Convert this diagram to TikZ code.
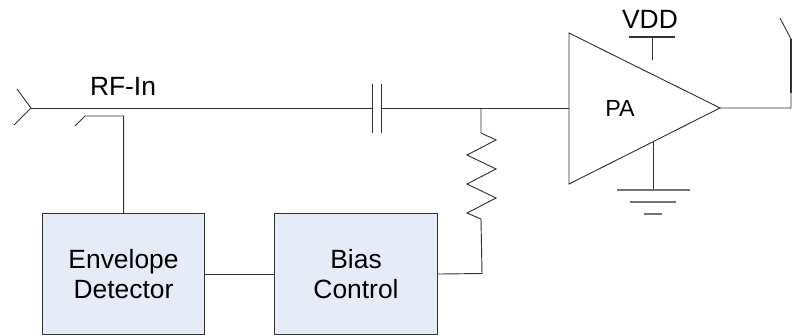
\documentclass[tikz,border=0pt]{standalone}
\usepackage{fontspec}
\setmainfont{Liberation Sans}
\usetikzlibrary{positioning,calc}
\definecolor{cBlockBg}{HTML}{E6ECF7}
\definecolor{cWire}{HTML}{333333}
\tikzset{
  wire/.style={draw=cWire, line width=0.7pt},
  blockBox/.style={draw=cWire, fill=cBlockBg, line width=0.8pt, anchor=north west, align=center,
                   font=\fontsize{19.8}{23.2}\selectfont, inner sep=0pt, minimum height=90.75pt},
  lbl/.style={font=\fontsize{19.8}{23}\selectfont, inner sep=0pt},
}
\begin{document}
\begin{tikzpicture}[x=0.75pt,y=-0.75pt]
\useasboundingbox (0,0) rectangle (793,335);

% ========== INPUT LINE ==========
\coordinate (inTip) at (31,108);
\coordinate (inTop) at (17,89);
\coordinate (inBot) at (14,125);
\coordinate (capL) at (372,108);
\coordinate (capR) at (381,108);
\coordinate (tee) at (481,108);
\draw[wire] (inTop) -- (inTip) -- (inBot);
\draw[wire] (inTip) -- (capL);
\draw[wire] (capR) -- (tee);
\draw[wire] (capL |- 0,84) -- (capL |- 0,133);
\draw[wire] (capR |- 0,84) -- (capR |- 0,133);
\node[lbl] (rfin) at (123,86) {RF-In};

% ========== BLOCKS ==========
\node[blockBox, minimum width=121.5pt] (envdet) at (42,213) {Envelope\\Detector};
\node[blockBox, minimum width=122.25pt] (bias) at (274,213) {Bias\\Control};

% coupler
\coordinate (cplTip) at (75,126);
\coordinate (cplBend) at (85,116);
\coordinate (cplCorner) at (envdet.north |- cplBend);
\draw[wire] (cplTip) -- (cplBend) -- (cplCorner) -- (envdet.north);
\draw[wire] (envdet.east) -- (bias.west);

% resistor
\draw[wire] (tee) -- (481,133) -- (496,140) -- (467,155) -- (496,169) -- (467,184)
  -- (496,198) -- (467,213) -- (481,219) -- (482,273.5) -- (bias.east);

% ========== PA ==========
\coordinate (paTop) at (569,33);
\coordinate (paBot) at (569,184);
\coordinate (paTip) at (720,108);
\draw[wire] (paTop) -- (paTip) -- (paBot) -- cycle;
\node[lbl, font=\fontsize{17.5}{20}\selectfont] (pa) at (620,108) {PA};
\draw[wire] (tee) -- (569,108);

% supply
\node[lbl] (vdd) at (650,19) {VDD};
\draw[wire, line width=1.5pt] (629,37) -- (675,37);
\draw[wire] (652,37) -- (652,60);

% ground
\draw[wire] (653,142) -- (653,190);
\draw[wire, line width=1pt, draw=black!55] (617,190) -- (690,190);
\draw[wire, line width=1pt, draw=black!55] (630,202) -- (676,202);
\draw[wire, line width=1pt, draw=black!55] (644,214) -- (662,214);

% output
\draw[wire] (paTip) -- (791,108) -- (791,39) -- (780,18);
\draw[wire, line width=1.5pt] (791,39) -- (791,93);

\end{tikzpicture}
\end{document}
